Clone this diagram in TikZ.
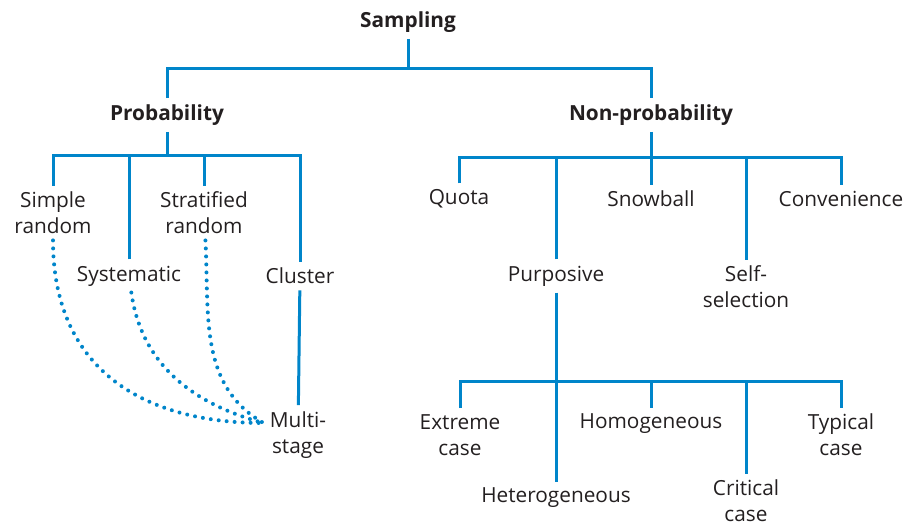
\documentclass[tikz,border=0pt]{standalone}
\usepackage{fontspec}
\setmainfont{Open Sans}
\usetikzlibrary{calc}
\definecolor{lineblue}{RGB}{0,133,202}
\definecolor{txtgray}{RGB}{35,31,32}

\begin{document}
\begin{tikzpicture}[x=0.5pt,y=-0.5pt,line join=miter,
    branch/.style={draw=lineblue,line width=1.5pt},
    link/.style={draw=lineblue,line width=2pt,line cap=round,dash pattern=on 0pt off 4pt},
    lbl/.style={align=center,inner sep=3pt,text=txtgray,font=\fontsize{10.4}{13}\selectfont},
    head/.style={lbl,font=\bfseries\fontsize{10.4}{13}\selectfont}]
\useasboundingbox (0,0) rectangle (909,527);

% heights of the horizontal bars
\coordinate (bar0) at (0,68);
\coordinate (bar1) at (0,155);
\coordinate (bar2) at (0,157);
\coordinate (bar3) at (0,381);

%%% top levels
\node[head] (samp) at (408,22) {Sampling};
\node[head] (prob) at (167,115) {Probability};
\node[head] (nonp) at (651,115) {Non-probability};

%%% probability side
\node[lbl] (simple) at (53,213) {Simple\\random};
\node[lbl] (syst) at (129,276) {Systematic};
\node[lbl] (strat) at (204,213) {Stratified\\random};
\node[lbl] (clus) at (300,276) {Cluster};
\node[lbl] (multi) at (298,435) {Multi-\\stage};

%%% non-probability side
\node[lbl] (quota) at (459,199) {Quota};
\node[lbl] (purp) at (556,276) {Purposive};
\node[lbl] (snow) at (651,199) {Snowball};
\node[lbl] (self) at (746,287) {Self-\\selection};
\node[lbl] (conv) at (841,199) {Convenience};

% purposive subtypes
\node[lbl] (ext) at (460,435) {Extreme\\case};
\node[lbl] (het) at (556,498) {Heterogeneous};
\node[lbl] (homo) at (651,424) {Homogeneous};
\node[lbl] (crit) at (746,501) {Critical\\case};
\node[lbl] (typ) at (841,435) {Typical\\case};

% draw tree branches
\draw[branch] (samp) -- (samp |- bar0);
\draw[branch] (prob) -- (prob |- bar0) -- (nonp |- bar0) -- (nonp);

\draw[branch] (prob) -- (prob |- bar1);
\draw[branch] (simple) -- (simple |- bar1) -- (clus |- bar1) -- (clus);
\foreach \n in {syst,strat} {
    \draw[branch] (\n) -- (\n |- bar1);
}
\draw[branch] (clus) -- (multi);

\draw[branch] (nonp) -- (nonp |- bar2);
\draw[branch] (quota) -- (quota |- bar2) -- (conv |- bar2) -- (conv);
\foreach \n in {purp,snow,self} {
    \draw[branch] (\n) -- (\n |- bar2);
}

\draw[branch] (purp) -- (het);
\draw[branch] (ext) -- (ext |- bar3) -- (typ |- bar3) -- (typ);
\foreach \n in {homo,crit} {
    \draw[branch] (\n) -- (\n |- bar3);
}

% dotted links into multi-stage (first text line)
\coordinate (mend) at ($(multi.west)+(0,-12)$);
\draw[link] (simple) to[out=-90,in=180,looseness=1.15] (mend);
\draw[link] (syst) to[out=-82,in=165] (mend);
\draw[link] (strat) to[out=-87,in=150] (mend);

\end{tikzpicture}
\end{document}
